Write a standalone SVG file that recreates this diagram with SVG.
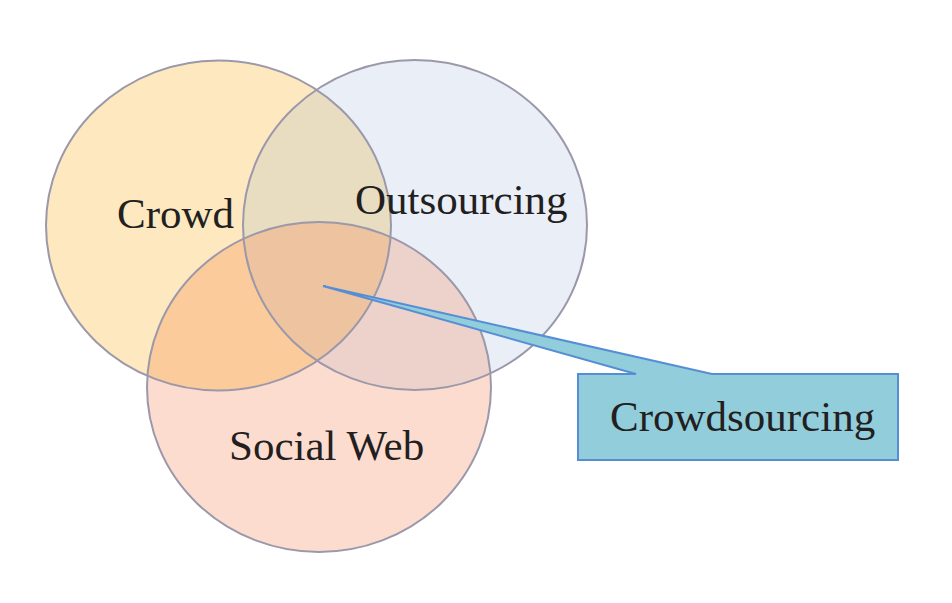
<svg xmlns="http://www.w3.org/2000/svg" width="952" height="603" viewBox="0 0 952 603">
  <style>
    .lbl { font-family: "Liberation Serif", "Times New Roman", serif; font-size: 43px; fill: #231f20; }
    .ring { fill: none; stroke: #9b98aa; stroke-width: 2; }
  </style>
  <defs>
    <clipPath id="clipCrowd"><ellipse cx="218.5" cy="225.5" rx="172.5" ry="165"/></clipPath>
    <clipPath id="clipOut"><ellipse cx="415" cy="225" rx="172" ry="165"/></clipPath>
    <clipPath id="clipSocial"><ellipse cx="319" cy="387" rx="172" ry="165"/></clipPath>
  </defs>
  <rect width="952" height="603" fill="#ffffff"/>
  <g id="fills">
    <ellipse cx="415" cy="225" rx="172" ry="165" fill="#e9eef7"/>
    <ellipse cx="218.5" cy="225.5" rx="172.5" ry="165" fill="#fde8bf"/>
    <ellipse cx="319" cy="387" rx="172" ry="165" fill="#fddcd0"/>
    <g clip-path="url(#clipCrowd)">
      <ellipse cx="415" cy="225" rx="172" ry="165" fill="#e9ddc1"/>
      <ellipse cx="319" cy="387" rx="172" ry="165" fill="#fccb9b"/>
    </g>
    <g clip-path="url(#clipOut)">
      <ellipse cx="319" cy="387" rx="172" ry="165" fill="#edd2cb"/>
      <g clip-path="url(#clipCrowd)">
        <ellipse cx="319" cy="387" rx="172" ry="165" fill="#edc3a0"/>
      </g>
    </g>
  </g>
  <g id="crowd">
    <ellipse class="ring" cx="218.5" cy="225.5" rx="172.5" ry="165"/>
    <text class="lbl" x="117" y="228">Crowd</text>
  </g>
  <g id="outsourcing">
    <ellipse class="ring" cx="415" cy="225" rx="172" ry="165"/>
    <text class="lbl" x="355" y="214">Outsourcing</text>
  </g>
  <g id="socialweb">
    <ellipse class="ring" cx="319" cy="387" rx="172" ry="165"/>
    <text class="lbl" x="229" y="460">Social Web</text>
  </g>
  <g id="connectors"></g>
  <g id="crowdsourcing">
    <path d="M578,374 L636,374 L323,286 L712,374 L898,374 L898,460 L578,460 Z" fill="#92cddc" stroke="#558ed5" stroke-width="2" stroke-linejoin="miter"/>
    <text class="lbl" x="610" y="431">Crowdsourcing</text>
  </g>
</svg>
